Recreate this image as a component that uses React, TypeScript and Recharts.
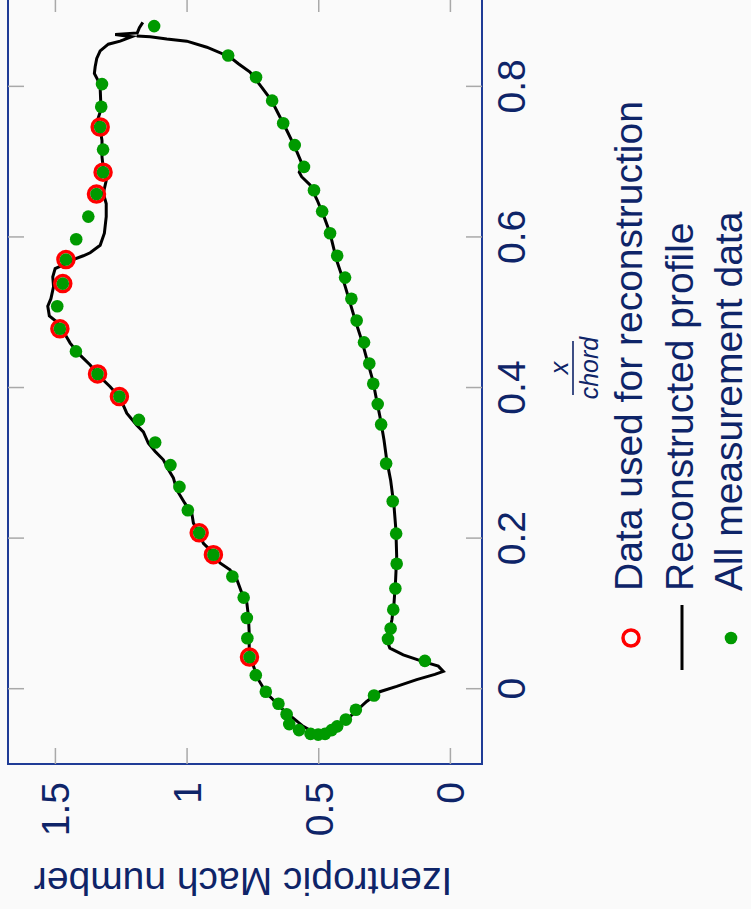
import {
	ComposedChart,
	Line,
	Scatter,
	XAxis,
	YAxis,
	ReferenceArea,
	Legend,
} from "recharts";

// measured isentropic Mach number along the blade, x/chord vs Ma
const MEAS_X = [
	0.88, 0.841, 0.812, 0.803, 0.781, 0.773, 0.751, 0.746, 0.722, 0.716, 0.693,
	0.686, 0.662, 0.657, 0.634, 0.627, 0.605, 0.597, 0.575, 0.57, 0.546, 0.538,
	0.518, 0.508, 0.489, 0.478, 0.46, 0.448, 0.432, 0.418, 0.405, 0.388, 0.378,
	0.357, 0.351, 0.327, 0.299, 0.297, 0.268, 0.249, 0.237, 0.207, 0.206, 0.178,
	0.166, 0.149, 0.133, 0.121, 0.105, 0.094, 0.08, 0.067, 0.066, 0.042, 0.037,
	0.018, -0.004, -0.009, -0.02, -0.028, -0.034, -0.041, -0.047, -0.05, -0.055,
	-0.055, -0.06, -0.06, -0.061,
];
const MEAS_M = [
	1.125, 0.844, 0.738, 1.323, 0.677, 1.326, 0.635, 1.33, 0.591, 1.319, 0.556,
	1.319, 0.518, 1.344, 0.487, 1.375, 0.457, 1.421, 0.43, 1.46, 0.4, 1.472,
	0.376, 1.493, 0.356, 1.483, 0.328, 1.422, 0.308, 1.34, 0.293, 1.257, 0.276,
	1.183, 0.263, 1.121, 0.244, 1.063, 1.029, 0.219, 0.997, 0.954, 0.206, 0.9,
	0.204, 0.828, 0.209, 0.785, 0.217, 0.773, 0.227, 0.771, 0.237, 0.763, 0.097,
	0.739, 0.701, 0.29, 0.653, 0.359, 0.622, 0.397, 0.612, 0.43, 0.575, 0.451,
	0.531, 0.476, 0.502,
];

// subset used for the reconstruction
const USED_X = [0.746, 0.686, 0.657, 0.57, 0.538, 0.478, 0.418, 0.388, 0.207, 0.178, 0.042];
const USED_M = [1.33, 1.319, 1.344, 1.46, 1.472, 1.483, 1.34, 1.257, 0.954, 0.9, 0.763];

// reconstructed profile, traced around the blade from the trailing edge
const PROFILE_X = [
	0.885, 0.878, 0.871, 0.869, 0.866, 0.86, 0.856, 0.847, 0.837, 0.826, 0.817,
	0.809, 0.798, 0.781, 0.766, 0.755, 0.744, 0.728, 0.706, 0.691, 0.675, 0.658,
	0.644, 0.627, 0.605, 0.589, 0.579, 0.575, 0.571, 0.568, 0.558, 0.547, 0.534,
	0.518, 0.508, 0.495, 0.487, 0.474, 0.459, 0.443, 0.43, 0.414, 0.401, 0.386,
	0.366, 0.35, 0.341, 0.326, 0.315, 0.304, 0.291, 0.28, 0.264, 0.253, 0.246,
	0.233, 0.22, 0.204, 0.193, 0.18, 0.167, 0.158, 0.145, 0.127, 0.114, 0.096,
	0.074, 0.052, 0.042, 0.03, 0.012, -0.006, -0.015, -0.028, -0.039, -0.05,
	-0.059, -0.059, -0.052, -0.041, -0.029, -0.017, -0.004, 0.003, 0.012, 0.019,
	0.023, 0.03, 0.036, 0.045, 0.054, 0.063, 0.074, 0.092, 0.114, 0.145, 0.176,
	0.211, 0.242, 0.277, 0.304, 0.33, 0.357, 0.383, 0.41, 0.436, 0.463, 0.49,
	0.516, 0.543, 0.569, 0.596, 0.605, 0.627, 0.649, 0.669, 0.68, 0.686, 0.695,
	0.719, 0.742, 0.764, 0.781, 0.799, 0.819, 0.83, 0.839, 0.852, 0.86, 0.863,
	0.866, 0.867,
];
const PROFILE_M = [
	1.168, 1.181, 1.189, 1.273, 1.21, 1.254, 1.299, 1.33, 1.343, 1.349, 1.352,
	1.34, 1.33, 1.328, 1.33, 1.34, 1.33, 1.323, 1.323, 1.318, 1.307, 1.318,
	1.307, 1.307, 1.314, 1.33, 1.368, 1.394, 1.425, 1.438, 1.501, 1.51, 1.507,
	1.517, 1.529, 1.523, 1.494, 1.469, 1.444, 1.406, 1.368, 1.33, 1.292, 1.254,
	1.229, 1.191, 1.166, 1.147, 1.121, 1.09, 1.071, 1.052, 1.039, 1.02, 1.008,
	0.982, 0.976, 0.951, 0.938, 0.9, 0.875, 0.837, 0.811, 0.792, 0.773, 0.767,
	0.764, 0.764, 0.757, 0.748, 0.729, 0.698, 0.672, 0.635, 0.597, 0.559, 0.514,
	0.476, 0.432, 0.394, 0.356, 0.318, 0.268, 0.204, 0.128, 0.059, 0.027, 0.046,
	0.103, 0.179, 0.23, 0.24, 0.232, 0.222, 0.214, 0.208, 0.204, 0.207, 0.214,
	0.227, 0.242, 0.252, 0.265, 0.28, 0.295, 0.316, 0.337, 0.362, 0.384, 0.407,
	0.432, 0.451, 0.457, 0.48, 0.506, 0.533, 0.565, 0.574, 0.561, 0.59, 0.622,
	0.654, 0.679, 0.717, 0.761, 0.805, 0.837, 0.925, 1.001, 1.077, 1.14, 1.191,
];

const X_TICKS = [0, 0.2, 0.4, 0.6, 0.8];
const M_TICKS = [0, 0.5, 1, 1.5];
const X_DOMAIN = [-0.1, 0.92];
const M_DOMAIN = [-0.12, 1.68];
const LEGEND_LABELS = [
	"Data used for reconstruction",
	"Reconstructed profile",
	"All measurement data",
];

const zip = (xs: number[], ms: number[]) => xs.map((x, i) => ({ x, M: ms[i] }));
const measured = zip(MEAS_X, MEAS_M);
const used = zip(USED_X, USED_M);
const profile = zip(PROFILE_X, PROFILE_M);

// chart is drawn landscape, then turned a quarter turn to the left
const W = 920;
const H = 751;
const PLOT_TOP = 8;
const PLOT_RIGHT = 913;
const FONT = '"Liberation Sans", Arial, sans-serif';
const NAVY = "#0e2468";
const FRAME = "#1f3c96";
const TICK = "#a9a9a9";
const GREEN = "#009a00";
const RED = "#ff0000";

function XTick({ x, y, payload }: any) {
	return (
		<g>
			<line x1={x} y1={y} x2={x} y2={y - 16} stroke={TICK} strokeWidth={1.5} />
			<line x1={x} y1={PLOT_TOP} x2={x} y2={PLOT_TOP + 16} stroke={TICK} strokeWidth={1.5} />
			<text x={x} y={y + 43} textAnchor="middle" fill={NAVY} fontSize={39} fontFamily={FONT}>
				{String(payload.value)}
			</text>
		</g>
	);
}

function YTick({ x, y, payload }: any) {
	return (
		<g>
			<line x1={x} y1={y} x2={x + 16} y2={y} stroke={TICK} strokeWidth={1.5} />
			<line x1={PLOT_RIGHT} y1={y} x2={PLOT_RIGHT - 16} y2={y} stroke={TICK} strokeWidth={1.5} />
			<text x={x - 18} y={y + 14} textAnchor="end" fill={NAVY} fontSize={39} fontFamily={FONT}>
				{String(payload.value)}
			</text>
		</g>
	);
}

function XLabel({ viewBox }: any) {
	const cx = viewBox.x + viewBox.width / 2 + 12;
	const top = viewBox.y;
	return (
		<g fill={NAVY} fontFamily={FONT} fontStyle="italic" fontSize={25}>
			<text x={cx} y={top + 86} textAnchor="middle">x</text>
			<line x1={cx - 27} y1={top + 91} x2={cx + 27} y2={top + 91} stroke={NAVY} strokeWidth={1.6} />
			<text x={cx} y={top + 116} textAnchor="middle">chord</text>
		</g>
	);
}

function YLabel({ viewBox }: any) {
	const cy = viewBox.y + viewBox.height / 2 - 2;
	const bx = 41;
	return (
		<text
			x={bx}
			y={cy}
			transform={`rotate(-90, ${bx}, ${cy})`}
			textAnchor="middle"
			fill={NAVY}
			fontSize={39}
			fontFamily={FONT}
		>
			Izentropic Mach number
		</text>
	);
}

function dot(color: string, r: number) {
	return (p: any) => <circle cx={p.cx} cy={p.cy} r={r} fill={color} />;
}

function ring(p: any) {
	return <circle cx={p.cx} cy={p.cy} r={8} fill="none" stroke={RED} strokeWidth={3.5} />;
}

function LegendBox() {
	const rows = [631, 682, 731];
	return (
		<svg width={W} height={H} style={{ position: "absolute", left: 0, top: 0 }}>
			<circle cx={271} cy={rows[0]} r={8} fill="none" stroke={RED} strokeWidth={3.5} />
			<line x1={239} y1={rows[1]} x2={304} y2={rows[1]} stroke="#000" strokeWidth={3} />
			<circle cx={271} cy={rows[2]} r={6.3} fill={GREEN} />
			{LEGEND_LABELS.map((t, i) => (
				<text key={t} x={318} y={rows[i] + 11} fill={NAVY} fontSize={39} fontFamily={FONT}>
					{t}
				</text>
			))}
		</svg>
	);
}

export default function App() {
	return (
		<div
			style={{
				position: "fixed",
				left: 0,
				top: 0,
				width: 751,
				height: 909,
				background: "#fafafa",
				overflow: "hidden",
			}}
		>
			<div
				style={{
					position: "absolute",
					left: 0,
					top: 0,
					width: W,
					height: H,
					transformOrigin: "0 0",
					transform: "translateY(909px) rotate(-90deg)",
				}}
			>
				<ComposedChart width={W} height={H} margin={{ top: 8, right: 7, bottom: 0, left: 0 }}>
					<XAxis
						type="number"
						dataKey="x"
						domain={X_DOMAIN}
						ticks={X_TICKS}
						allowDataOverflow
						height={269}
						axisLine={false}
						tickLine={false}
						tickSize={0}
						tickMargin={0}
						tick={<XTick />}
						label={<XLabel />}
					/>
					<YAxis
						type="number"
						dataKey="M"
						domain={M_DOMAIN}
						ticks={M_TICKS}
						allowDataOverflow
						width={145}
						axisLine={false}
						tickLine={false}
						tickSize={0}
						tickMargin={0}
						tick={<YTick />}
						label={<YLabel />}
					/>
					<ReferenceArea
						x1={X_DOMAIN[0]}
						x2={X_DOMAIN[1]}
						y1={M_DOMAIN[0]}
						y2={M_DOMAIN[1]}
						fill="none"
						stroke={FRAME}
						strokeWidth={2}
						ifOverflow="visible"
					/>
					<Line
						data={profile}
						dataKey="M"
						type="linear"
						stroke="#000"
						strokeWidth={3}
						dot={false}
						activeDot={false}
						isAnimationActive={false}
					/>
					<Scatter data={used} shape={ring} isAnimationActive={false} />
					<Scatter data={measured} shape={dot(GREEN, 6.3)} isAnimationActive={false} />
					<Legend
						layout="vertical"
						align="center"
						verticalAlign="middle"
						content={<LegendBox />}
						wrapperStyle={{ position: "absolute", left: 0, top: 0, width: W, height: H, pointerEvents: "none" }}
					/>
				</ComposedChart>
			</div>
		</div>
	);
}
